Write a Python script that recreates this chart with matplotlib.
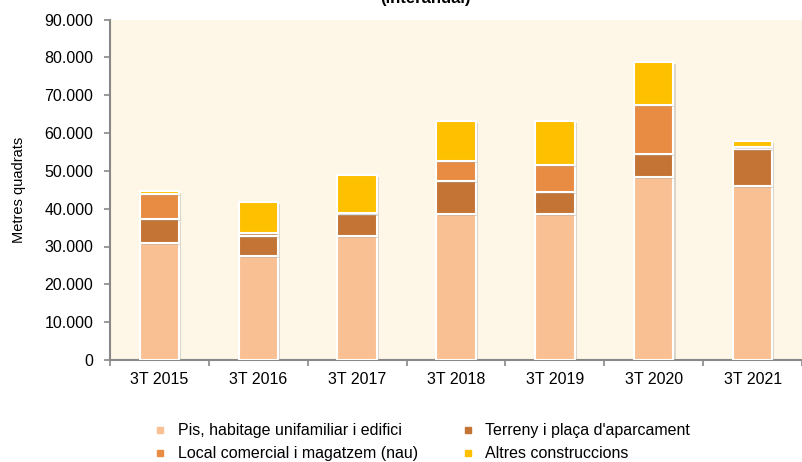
import numpy as np
import matplotlib
matplotlib.use('Agg')
import matplotlib.pyplot as plt
import matplotlib.patheffects as pe
from matplotlib.lines import Line2D
from matplotlib.ticker import FuncFormatter, MultipleLocator

plt.rcParams['font.family'] = ['Liberation Sans', 'DejaVu Sans']

#===============================
# data (metres quadrats)
periods = ['3T 2015', '3T 2016', '3T 2017', '3T 2018', '3T 2019', '3T 2020', '3T 2021']
pis = [31000, 27500, 32700, 38700, 38700, 48400, 46100]
terreny = [6300, 5400, 6000, 8600, 5800, 6000, 9600]
local = [6500, 800, 200, 5200, 7000, 12900, 600]
altres = [900, 8000, 10000, 10600, 11600, 11500, 1700]

labels = ['Pis, habitage unifamiliar i edifici',
          'Terreny i plaça d\'aparcament',
          'Local comercial i magatzem (nau)',
          'Altres construccions']
colors = ['#F9C093', '#C47535', '#E88C44', '#FFC000']

#==================================
def DrawFig():
  fig = plt.figure(figsize=(8.02, 4.62), dpi=100)
  ax = fig.add_axes([110/802, 102/462, 692/802, 340.5/462])
  ax.set_facecolor('#FEF6E6')

  x = np.arange(len(periods))
  series = [pis, terreny, local, altres]
  bottom = np.zeros(len(periods))
  shadow = [pe.SimplePatchShadow(offset=(1.5, -1.5), shadow_rgbFace='#999999', alpha=0.35), pe.Normal()]
  for vals, col in zip(series, colors):
    v = np.array(vals)
    bars = ax.bar(x, v, 0.4, bottom=bottom, color=col, edgecolor='white', linewidth=1.5, zorder=3)
    for b in bars:
      b.set_path_effects(shadow)
    bottom += v

  ax.set_xlim(-0.5, 6.42)
  ax.set_ylim(0, 90000)
  ax.yaxis.set_major_locator(MultipleLocator(10000))
  ax.yaxis.set_major_formatter(FuncFormatter(lambda v, p: '{:,.0f}'.format(v).replace(',', '.')))
  ax.set_xticks(x)
  ax.set_xticklabels(periods)
  ax.set_xticks(np.arange(-0.5, 7, 1), minor=True)
  ax.tick_params(axis='x', which='major', length=0, pad=9, labelsize=11.5)
  ax.tick_params(axis='x', which='minor', length=4, color='#888888', width=1.2)
  ax.tick_params(axis='y', length=4, color='#888888', width=1.2, pad=8, labelsize=11.5)

  for s in ['top', 'right']:
    ax.spines[s].set_visible(False)
  for s in ['left', 'bottom']:
    ax.spines[s].set_color('#888888')
    ax.spines[s].set_linewidth(1.5)

  ax.set_ylabel('Metres quadrats', fontsize=10.5)
  ax.yaxis.set_label_coords(-0.122, 0.5)

  fig.text(425/802, 1 - 3/462, '(interanual)', ha='center', va='baseline', fontsize=12, fontweight='bold')

  order = [0, 2, 1, 3]
  handles = [Line2D([], [], marker='s', linestyle='none', markersize=5,
                    markerfacecolor=colors[i], markeredgecolor=colors[i]) for i in order]
  fig.legend(handles, [labels[i] for i in order], ncol=2, loc='upper left',
             bbox_to_anchor=(138/802, 1 - 409/462), frameon=False, fontsize=11.5,
             handlelength=1.0, handletextpad=0.6, columnspacing=2.6, labelspacing=0.5)

  plt.savefig('out.png', dpi=100)
  return

#==================================
def main():
  DrawFig()
  return

if __name__ == '__main__':
  main()
